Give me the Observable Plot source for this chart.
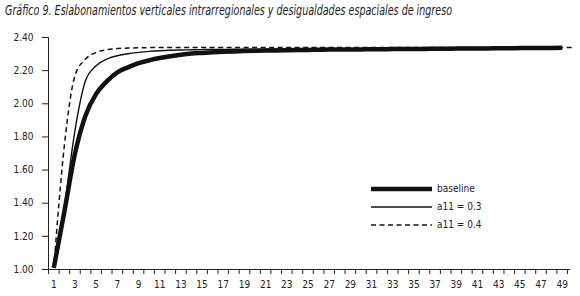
<!DOCTYPE html>
<html><head><meta charset="utf-8">
<script src="https://cdn.jsdelivr.net/npm/d3@7"></script>
<script src="https://cdn.jsdelivr.net/npm/@observablehq/plot@0.6"></script>
<style>
body{margin:0;background:#fff;}
#wrap{position:relative;width:580px;height:296px;overflow:hidden;font-family:"DejaVu Sans","DejaVu Sans Condensed",sans-serif;font-stretch:condensed;color:#222;}
#title{height:27px;white-space:nowrap;font-style:italic;font-size:14px;line-height:14px;padding-left:5px;box-sizing:border-box;}
#title span{display:inline-block;transform-origin:0 0;margin-top:3px;}
#chart svg{display:block;font-stretch:condensed;}
#legend{position:absolute;left:371px;top:180px;font-size:10px;line-height:18px;}
#legend div{height:18px;white-space:nowrap;}
#legend svg{vertical-align:middle;margin-right:5px;}
</style>
</head><body>
<div id="wrap">
  <div id="title"><span>Gráfico 9. Eslabonamientos verticales intrarregionales y desigualdades espaciales de ingreso</span></div>
  <div id="chart"></div>
  <div id="legend"></div>
</div>
<script>
// Data (periods 1..49, dashed series runs one period further)
const seriesNames = ["baseline", "a11 = 0.3", "a11 = 0.4"];
const baseline = [1.01, 1.35, 1.70, 1.93, 2.06, 2.135, 2.19, 2.22, 2.245, 2.262,
  2.276, 2.287, 2.296, 2.303, 2.307, 2.311, 2.314, 2.316, 2.318, 2.320,
  2.321, 2.322, 2.323, 2.324, 2.325, 2.326, 2.327, 2.327, 2.328, 2.328,
  2.329, 2.329, 2.330, 2.330, 2.331, 2.331, 2.332, 2.332, 2.333, 2.333,
  2.334, 2.334, 2.335, 2.335, 2.336, 2.336, 2.337, 2.337, 2.338];
const a11_03 = [1.01, 1.38, 1.84, 2.14, 2.23, 2.27, 2.29, 2.302, 2.31, 2.316,
  2.320, 2.323, 2.325, 2.326, 2.327, 2.328, 2.328, 2.329, 2.329, 2.330,
  2.330, 2.331, 2.331, 2.331, 2.332, 2.332, 2.332, 2.333, 2.333, 2.333,
  2.334, 2.334, 2.334, 2.335, 2.335, 2.335, 2.335, 2.336, 2.336, 2.336,
  2.336, 2.337, 2.337, 2.337, 2.337, 2.338, 2.338, 2.338, 2.338];
const a11_04 = [1.01, 1.75, 2.17, 2.27, 2.31, 2.326, 2.333, 2.336, 2.338, 2.339,
  2.340, 2.340, 2.340, 2.340, 2.340, 2.340, 2.340, 2.340, 2.340, 2.340,
  2.340, 2.340, 2.340, 2.340, 2.340, 2.340, 2.340, 2.340, 2.340, 2.340,
  2.340, 2.340, 2.340, 2.340, 2.340, 2.340, 2.340, 2.340, 2.340, 2.340,
  2.340, 2.340, 2.340, 2.340, 2.340, 2.340, 2.340, 2.340, 2.340, 2.340];
const yTicks = [1.00, 1.20, 1.40, 1.60, 1.80, 2.00, 2.20, 2.40];
const xLabels = [1,3,5,7,9,11,13,15,17,19,21,23,25,27,29,31,33,35,37,39,41,43,45,47,49];

const styles = {
  "baseline": {strokeWidth: 4.5, dash: null},
  "a11 = 0.3": {strokeWidth: 1.4, dash: null},
  "a11 = 0.4": {strokeWidth: 1.5, dash: "5,3.5"}
};
const toRows = (arr) => arr.map((v, i) => ({x: i + 1, y: v}));
const xBounds = d3.range(0.5, 50, 1);

const lineMark = (arr, name) => Plot.line(toRows(arr), {
  x: "x", y: "y", stroke: "#111", strokeWidth: styles[name].strokeWidth,
  strokeDasharray: styles[name].dash, curve: "monotone-x", strokeLinecap: "butt"
});

const chart = Plot.plot({
  width: 580, height: 269,
  marginLeft: 48, marginRight: 13, marginTop: 10, marginBottom: 27,
  x: {domain: [0.5, 49.5], axis: null},
  y: {domain: [1, 2.4], axis: null},
  style: {fontFamily: '"DejaVu Sans","DejaVu Sans Condensed",sans-serif', fontSize: "10px", color: "#222", background: "#fff"},
  marks: [
    Plot.axisY(yTicks, {tickSize: 6, tickPadding: 9, tickFormat: d => d.toFixed(2), label: null}),
    Plot.axisX(xBounds, {tickSize: 5, tickFormat: () => "", label: null}),
    Plot.axisX(xLabels, {tickSize: 0, tickPadding: 11, label: null}),
    Plot.ruleX([0.5], {stroke: "#222"}),
    Plot.ruleY([1], {x1: 0.5, x2: 49.8, stroke: "#222"}),
    lineMark(baseline, "baseline"),
    lineMark(a11_03, "a11 = 0.3"),
    lineMark(a11_04, "a11 = 0.4")
  ]
});
document.getElementById("chart").appendChild(chart);

// Legend
const legend = document.getElementById("legend");
seriesNames.forEach(name => {
  const s = styles[name];
  const row = document.createElement("div");
  row.innerHTML = `<svg width="61" height="10"><line x1="0" x2="61" y1="5" y2="5" stroke="#111" stroke-width="${s.strokeWidth}" ${s.dash ? `stroke-dasharray="${s.dash}"` : ""}/></svg><span>${name}</span>`;
  legend.appendChild(row);
});

// Fit condensed italic title to its width in the reference
const t = document.querySelector("#title span");
const w = t.getBoundingClientRect().width;
t.style.transform = `scaleX(${447 / w})`;
</script>
</body></html>
